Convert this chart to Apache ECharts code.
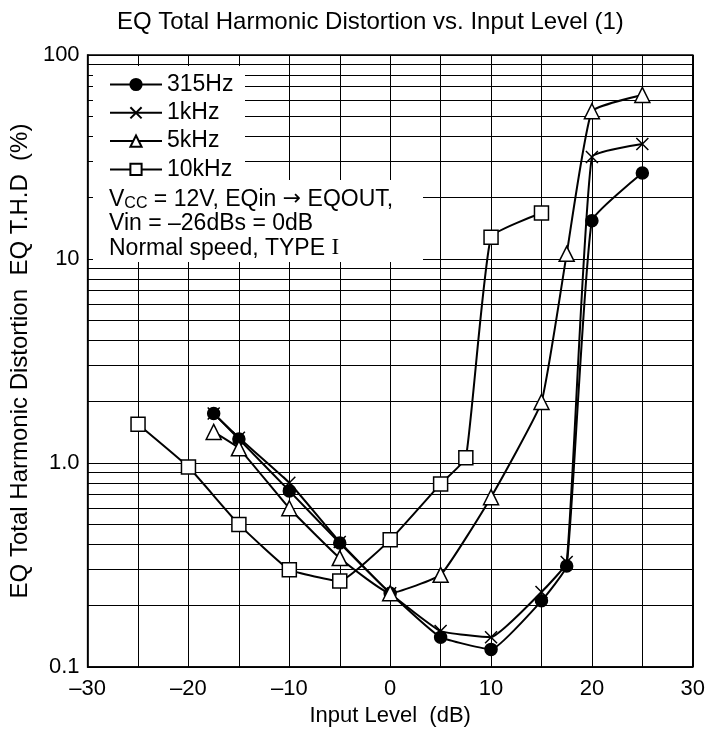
<!DOCTYPE html>
<html>
<head>
<meta charset="utf-8">
<script src="https://cdn.jsdelivr.net/npm/echarts@6/dist/echarts.min.js"></script>
<style>
html,body{margin:0;padding:0;background:#fff;}
#chart{width:708px;height:739px;}
</style>
</head>
<body>
<div id="chart"></div>
<script>
// ---- data ----
var seriesNames = ['315Hz', '1kHz', '5kHz', '10kHz'];
var x315 = [-17.5, -15, -10, -5, 0, 5, 10, 15, 17.5, 20, 25];
var y315 = [1.75, 1.31, 0.73, 0.405, 0.23, 0.14, 0.122, 0.211, 0.313, 15.4, 26.4];
var x1k = [-17.5, -15, -10, -5, 0, 5, 10, 15, 17.5, 20, 25];
var y1k = [1.75, 1.33, 0.80, 0.41, 0.23, 0.15, 0.14, 0.233, 0.327, 31.6, 36.6];
var x5k = [-17.5, -15, -10, -5, 0, 5, 10, 15, 17.5, 20, 25];
var y5k = [1.42, 1.18, 0.60, 0.342, 0.23, 0.283, 0.68, 1.99, 10.6, 53, 63.7];
var x10k = [-25, -20, -15, -10, -5, 0, 5, 7.5, 10, 15];
var y10k = [1.55, 0.955, 0.50, 0.30, 0.264, 0.42, 0.79, 1.06, 12.8, 16.8];
var minorGridValues = [0.2, 0.3, 0.4, 0.5, 0.6, 0.7, 0.8, 0.9, 2, 3, 4, 5, 6, 7, 8, 9, 20, 30, 40, 50, 60, 70, 80, 90];
var titleText = 'EQ Total Harmonic Distortion vs. Input Level (1)';
var xName = 'Input Level  (dB)';
var yName = 'EQ Total Harmonic Distortion  EQ T.H.D  (%)';

function zip(xs, ys) { return xs.map(function (x, i) { return [x, ys[i]]; }); }

var FONT = 'Liberation Sans, Arial, Helvetica, sans-serif';
var crossPath = 'path://M0,0 L10,10 M10,0 L0,10';

var chart = echarts.init(document.getElementById('chart'), null, {renderer: 'canvas'});

function lineSeries(name, data, symbol, size, fill) {
  return {
    name: name,
    type: 'line',
    data: data,
    smooth: 0.12,
    symbol: symbol,
    symbolSize: size,
    showSymbol: true,
    lineStyle: {color: '#000', width: 2},
    itemStyle: {color: fill, borderColor: '#000', borderWidth: 1.5},
    emphasis: {disabled: true},
    z: 5
  };
}

var option = {
  backgroundColor: '#fff',
  animation: false,
  title: {
    text: titleText,
    left: 112,
    top: 5,
    textStyle: {fontFamily: FONT, fontSize: 24, fontWeight: 'normal', color: '#000'}
  },
  grid: {
    left: 82, right: 15, top: 55, bottom: 72,
    show: true, borderColor: '#000', borderWidth: 1.5, backgroundColor: '#fff'
  },
  legend: {
    data: seriesNames,
    orient: 'vertical',
    left: 104,
    top: 68,
    itemWidth: 52,
    itemHeight: 14,
    itemGap: 5.3,
    z: 60,
    selectedMode: false,
    textStyle: {fontFamily: FONT, fontSize: 23, color: '#000'}
  },
  xAxis: {
    type: 'value',
    min: -30, max: 30, interval: 5,
    name: xName,
    nameLocation: 'middle',
    nameGap: 37,
    nameTextStyle: {fontFamily: FONT, fontSize: 22, color: '#000'},
    axisLine: {show: true, onZero: false, lineStyle: {color: '#000', width: 1.5}},
    axisTick: {show: false},
    axisLabel: {
      margin: 11,
      fontFamily: FONT, fontSize: 22, color: '#000',
      formatter: function (v) {
        if (Math.round(v) % 10 !== 0) return '';
        return v < 0 ? '\u2013' + (-v) : String(v);
      }
    },
    splitLine: {show: true, lineStyle: {color: '#000', width: 1}}
  },
  yAxis: {
    type: 'log',
    logBase: 10,
    min: 0.1, max: 100,
    name: yName,
    nameLocation: 'middle',
    nameGap: 48,
    nameTextStyle: {fontFamily: FONT, fontSize: 24, color: '#000'},
    axisLine: {show: true, onZero: false, lineStyle: {color: '#000', width: 1.5}},
    axisTick: {show: false},
    axisLabel: {
      margin: 8,
      fontFamily: FONT, fontSize: 22, color: '#000',
      formatter: function (v) {
        if (v >= 99) return '100';
        if (v >= 9.9) return '10';
        if (v >= 0.99) return '1.0';
        return '0.1';
      }
    },
    splitLine: {show: true, lineStyle: {color: '#000', width: 1}}
  },
  graphic: [
    {type: 'rect', z: 50, shape: {x: 93, y: 66, width: 152, height: 116}, style: {fill: '#fff'}},
    {type: 'rect', z: 50, shape: {x: 93, y: 180, width: 330, height: 82}, style: {fill: '#fff'}},
    {
      type: 'text', z: 60, x: 109, y: 187,
      style: {
        text: '{t|V}{s|CC}{t| = 12V, EQin }{a|\u2192}{t| EQOUT,}\n{t|Vin = \u201326dBs = 0dB}\n{t|Normal speed, TYPE }{r|I}',
        fill: '#000',
        font: '23px ' + FONT,
        verticalAlign: 'top',
        rich: {
          t: {fontFamily: FONT, fontSize: 23, lineHeight: 24.5, fill: '#000', color: '#000'},
          a: {fontFamily: 'DejaVu Sans, sans-serif', fontSize: 22, lineHeight: 24.5, fill: '#000', color: '#000'},
          s: {fontFamily: FONT, fontSize: 16, lineHeight: 16, verticalAlign: 'bottom', fill: '#000', color: '#000'},
          r: {fontFamily: 'Liberation Serif, serif', fontSize: 23, lineHeight: 24.5, fill: '#000', color: '#000'}
        }
      }
    }
  ],
  series: [
    {
      name: 'minor-grid',
      type: 'line',
      data: [],
      silent: true,
      z: 1,
      markLine: {
        silent: true,
        symbol: ['none', 'none'],
        label: {show: false},
        lineStyle: {type: 'solid', color: '#000', width: 1},
        emphasis: {disabled: true},
        data: minorGridValues.map(function (v) { return {yAxis: v}; })
      }
    },
    lineSeries('315Hz', zip(x315, y315), 'circle', 12, '#000'),
    lineSeries('1kHz', zip(x1k, y1k), crossPath, 12, '#000'),
    lineSeries('5kHz', zip(x5k, y5k), 'triangle', 15, '#fff'),
    lineSeries('10kHz', zip(x10k, y10k), 'rect', 14, '#fff')
  ]
};
chart.setOption(option);
</script>
</body>
</html>
